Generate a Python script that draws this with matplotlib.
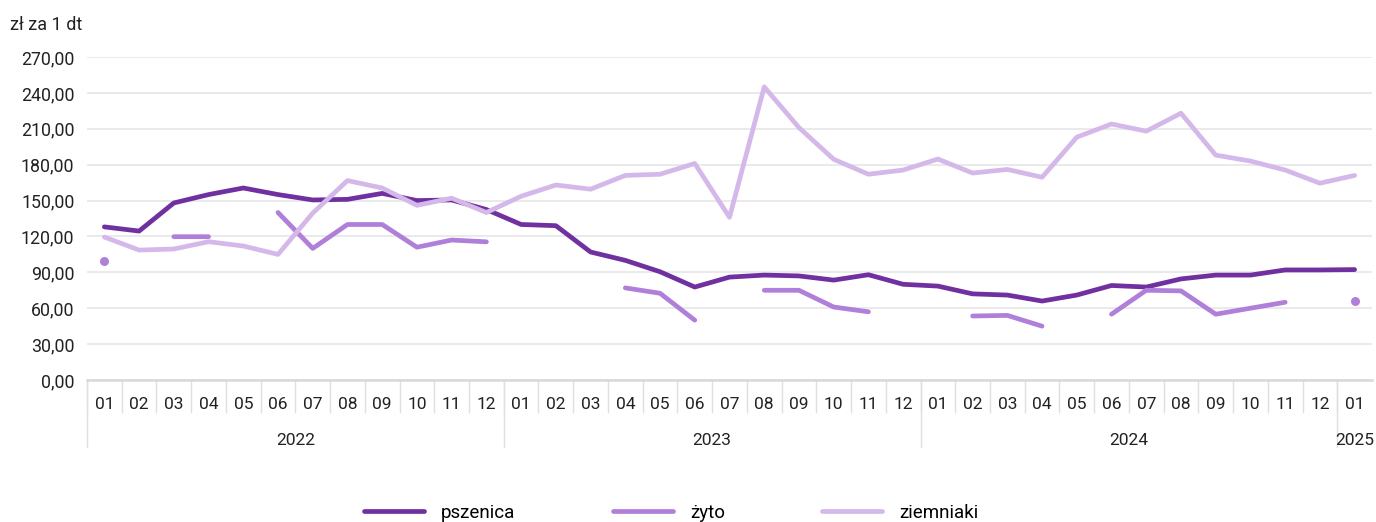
import numpy as np
import matplotlib.pyplot as plt
import matplotlib.transforms as mtransforms

plt.rcParams['font.family'] = ['Roboto', 'DejaVu Sans']

# Dane: ceny skupu (zł za 1 dt), 2022-01 .. 2025-01
lata = ['2022', '2023', '2024', '2025']
miesiace_w_roku = [12, 12, 12, 1]
miesiace = ['01', '02', '03', '04', '05', '06', '07', '08', '09', '10', '11', '12'] * 3 + ['01']

nan = np.nan
pszenica = [128.0, 124.5, 148.0, 155.0, 160.5, 155.0, 150.5, 151.0, 156.0, 150.0, 150.5, 142.5,
            130.0, 129.0, 107.0, 100.0, 90.5, 77.7, 86.0, 87.7, 87.0, 83.5, 88.0, 80.0,
            78.5, 72.0, 71.0, 66.0, 71.0, 79.0, 77.7, 84.5, 87.7, 87.7, 92.0, 92.0,
            92.3]
zyto = [99.5, nan, 119.8, 119.8, nan, 140.0, 110.0, 130.0, 130.0, 111.0, 117.0, 115.5,
        nan, nan, nan, 77.0, 72.5, 50.0, nan, 75.0, 75.0, 61.0, 57.0, nan,
        nan, 53.5, 54.0, 45.0, nan, 55.0, 75.0, 74.5, 55.0, 60.0, 65.0, nan,
        66.0]
ziemniaki = [119.5, 108.6, 109.5, 115.6, 112.0, 105.0, 139.5, 166.7, 160.5, 146.0, 152.0, 140.0,
             153.6, 163.0, 159.5, 171.0, 172.0, 181.0, 136.0, 245.0, 211.0, 184.5, 172.0, 175.5,
             184.7, 173.0, 176.0, 169.5, 203.0, 214.0, 208.0, 223.0, 188.0, 183.0, 175.5, 164.5,
             171.0]

serie = [('pszenica', pszenica, '#7030a0'),
         ('żyto', zyto, '#b07fd9'),
         ('ziemniaki', ziemniaki, '#d5b8ea')]

x = np.arange(len(miesiace))

fig = plt.figure(figsize=(13.76, 5.22), dpi=100)
ax = fig.add_axes([87 / 1376, 1 - 380 / 522, 1285 / 1376, 323 / 522])

for nazwa, wart, kolor in serie:
    y = np.array(wart, dtype=float)
    ax.plot(x, y, color=kolor, lw=3.4, solid_capstyle='round', solid_joinstyle='round',
            label=nazwa, zorder=3)
    # pojedyncze punkty (bez sąsiadów) rysujemy jako kropki
    ok = ~np.isnan(y)
    lewy = np.r_[False, ok[:-1]]
    prawy = np.r_[ok[1:], False]
    sam = ok & ~lewy & ~prawy
    ax.scatter(x[sam], y[sam], s=42, color=kolor, zorder=3, linewidths=0)

ax.set_xlim(-0.5, len(miesiace) - 0.5)
ax.set_ylim(0, 270)
ax.set_yticks(np.arange(0, 271, 30))
ax.set_yticklabels([f'{v:.2f}'.replace('.', ',') for v in np.arange(0, 271, 30)])
ax.grid(axis='y', color='#e6e6e6', lw=1.2)
ax.set_axisbelow(True)
for s in ['top', 'right', 'left']:
    ax.spines[s].set_visible(False)
ax.spines['bottom'].set_color('#d9d9d9')
ax.spines['bottom'].set_linewidth(1.8)
ax.tick_params(axis='y', length=0, pad=9, labelsize=12.8, labelcolor='#222222')

# dwupoziomowa oś X
ax.set_xticks(x)
ax.set_xticklabels(miesiace)
ax.tick_params(axis='x', length=0, pad=12, labelsize=12.5, labelcolor='#222222')

trans = mtransforms.blended_transform_factory(ax.transData, ax.transAxes)
for b in np.arange(-0.5, len(miesiace) - 0.5, 1.0):
    ax.plot([b, b], [0, -0.099], transform=trans, color='#e0e0e0', lw=1, clip_on=False)

start = 0
for rok, n in zip(lata, miesiace_w_roku):
    b = start - 0.5
    ax.plot([b, b], [0, -0.207], transform=trans, color='#e0e0e0', lw=1, clip_on=False)
    ax.text(start + (n - 1) / 2, -0.186, rok, transform=trans, ha='center', va='center',
            fontsize=12.5, color='#222222')
    start += n

fig.text(10 / 1376, 1 - 25 / 522, 'zł za 1 dt', ha='left', va='center', fontsize=13,
         color='#222222')

fig.legend(loc='center', bbox_to_anchor=(0.488, 1 - 513 / 522), ncol=3, frameon=False,
           fontsize=13.5, handlelength=3.2, columnspacing=5.2, handletextpad=0.9)

fig.savefig('out.png', dpi=100)
